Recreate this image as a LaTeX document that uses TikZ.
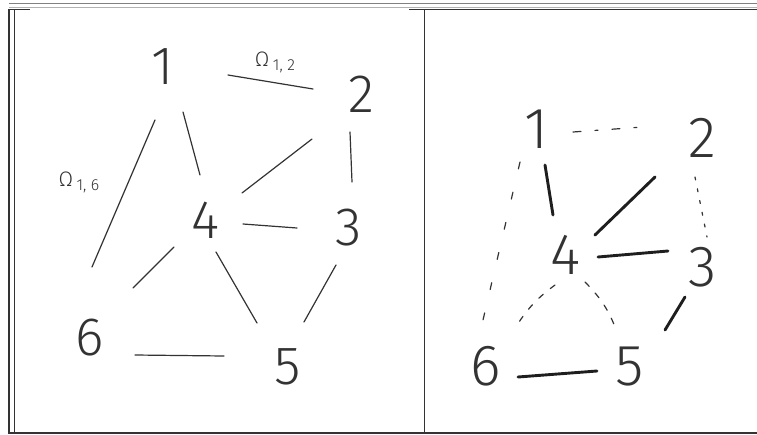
\documentclass[tikz,border=0pt]{standalone}
\usepackage{fontspec}
\newfontfamily\handfont{Fira Sans}[UprightFont={* Light}]
\definecolor{ink}{HTML}{333333}
\definecolor{penblack}{HTML}{1E1E1E}
\newcommand\omegalabel[2]{Ω\,\raisebox{-4pt}{\fontsize{16}{18}\selectfont #1,\;#2}}
\tikzset{
   leftnum/.style={inner sep=0pt, text=ink, font=\handfont\fontsize{54}{60}\selectfont},
   rightnum/.style={inner sep=0pt, text=ink, font=\handfont\fontsize{58}{64}\selectfont},
   omega/.style={inner sep=0pt, text=ink, font=\handfont\fontsize{21}{25}\selectfont},
   thinpen/.style={draw=ink, line width=1.2pt, line cap=round},
   thickpen/.style={draw=penblack, line width=2.9pt, line cap=round},
   dashdotpen/.style={thinpen, dash pattern=on 8pt off 14pt on 3pt off 14pt},
   sparsepen/.style={thinpen, dash pattern=on 7pt off 24pt},
   dotpen/.style={thinpen, dash pattern=on 3pt off 9pt},
   archpen/.style={thinpen, dash pattern=on 6pt off 9pt},
   tablerule/.style={draw=black!80, line width=1.3pt}
}

\begin{document}
\begin{tikzpicture}[x=1pt, y=-1pt]
\useasboundingbox (0,0) rectangle (757,434);
\draw[gray, line width=1.4pt] (9,3.5) -- (757,3.5);
\draw[black!30, line width=0.8pt] (9,7) -- (757,7);
\draw[tablerule] (9,9.3) -- (30,9.3);
\draw[tablerule] (409,9.3) -- (757,9.3);
\draw[tablerule] (9,9) -- (9,433) -- (757,433);
\draw[tablerule] (14.5,9) -- (14.5,433);
\draw[tablerule] (424.5,9) -- (424.5,433);

\foreach \n/\x/\y in {1/163/67, 2/361/94, 3/349/228, 4/205/220, 5/288/367, 6/90/338}
    \node[leftnum] (l-\n) at (\x,\y) {\n};
\foreach \p/\ax/\ay/\q/\bx/\by in {1/65/8/2/-48/-5, 1/20/45/4/-5/-45, 1/-8/53/6/2/-71,
        2/-49/45/4/37/-27, 2/-11/38/3/3/-46, 4/38/4/3/-52/0, 4/-31/27/6/43/-50,
        4/11/32/5/-31/-44, 3/-13/37/5/16/-45, 6/45/17/5/-64/-11}
    \draw[thinpen] ([shift={(\ax,\ay)}]l-\p.center) -- ([shift={(\bx,\by)}]l-\q.center);
\node[omega] (w-12) at (275,62) {\omegalabel{1}{2}};
\node[omega] (w-16) at (79,182) {\omegalabel{1}{6}};

\foreach \n/\x/\y in {1/536/129, 2/702/138, 3/703/267, 4/566/255, 5/630/367, 6/486/366}
    \node[rightnum] (r-\n) at (\x,\y) {\n};
\foreach \p/\ax/\ay/\q/\bx/\by in {1/9/36/4/-13/-40, 2/-47/39/4/29/-20, 4/32/2/3/-35/-16,
        3/-18/30/5/35/-37, 6/32/11/5/-33/4}
    \draw[thickpen] ([shift={(\ax,\ay)}]r-\p.center) -- ([shift={(\bx,\by)}]r-\q.center);
\draw[dashdotpen] ([shift={(37,3)}]r-1.center) -- ([shift={(-59,-11)}]r-2.center);
\draw[sparsepen] ([shift={(-16,33)}]r-1.center) -- ([shift={(-3,-46)}]r-6.center);
\draw[dotpen] ([shift={(-7,39)}]r-2.center) -- ([shift={(4,-30)}]r-3.center);
\draw[archpen] ([shift={(-11,30)}]r-4.center) to[bend right=10] ([shift={(31,-41)}]r-6.center);
\draw[archpen] ([shift={(19,27)}]r-4.center) to[bend left=12] ([shift={(-13,-35)}]r-5.center);
\end{tikzpicture}
\end{document}
